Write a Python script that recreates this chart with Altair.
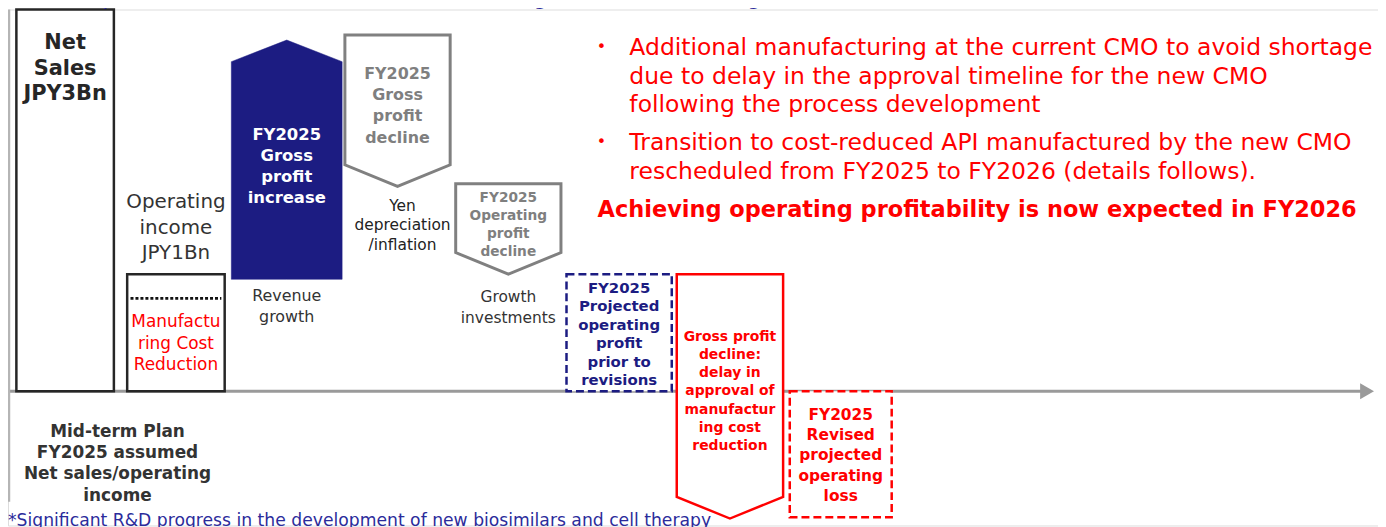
import altair as alt
import pandas as pd

# ---------------- data (JPY Bn-like units) ----------------
categories = ["Net sales", "Operating income", "Revenue growth", "Yen depreciation/inflation",
              "Growth investments", "Projected operating profit",
              "Approval delay gross profit decline", "Revised operating loss"]
start = [0.0, 0.0, 0.88, 2.80, 1.63, 0.0, 0.92, 0.0]
end = [3.0, 0.92, 2.76, 1.61, 0.92, 0.92, -1.00, -0.99]
mfg_cost_split = 0.73   # operating income part attributed to manufacturing cost reduction

bullet_lines = [
    ["Additional manufacturing at the current CMO to avoid shortage",
     "due to delay in the approval timeline for the new CMO",
     "following the process development"],
    ["Transition to cost-reduced API manufactured by the new CMO",
     "rescheduled from FY2025 to FY2026 (details follows)."],
]
conclusion = "Achieving operating profitability is now expected in FY2026"
title_text = "Development investments* towards continuous growth are increasing"
footnote = "*Significant R&D progress in the development of new biosimilars and cell therapy"

# ---------------- styles ----------------
FONT = "DejaVu Sans"
NAVY = "#1c1c82"
RED = "#ff0000"
GRAY = "#808080"
DARK = "#262626"
TIP = 0.17

W, H = 1378, 519
xs = alt.Scale(domain=[-0.5156, 11.849], zero=False, nice=False)
ys = alt.Scale(domain=[-1.0547, 3.0], zero=False, nice=False)


def X(f):
    return alt.X(f, scale=xs, axis=None)


def Y(f):
    return alt.Y(f, scale=ys, axis=None)


def box_df(idx, hw):
    return pd.DataFrame({
        "cat": [categories[i] for i in idx],
        "x0": [i - hw for i in idx], "x1": [i + hw for i in idx],
        "y0": [start[i] for i in idx], "y1": [end[i] for i in idx],
    })


def arrow_df(i, hw):
    s, e = start[i], end[i]
    if e > s:  # upward arrow
        xs_ = [i - hw, i, i + hw]
        top = [e - TIP, e, e - TIP]
        bot = [s, s, s]
    else:
        xs_ = [i - hw, i, i + hw]
        top = [s, s, s]
        bot = [e + TIP, e, e + TIP]
    return pd.DataFrame({"px": xs_, "top": top, "bot": bot})


def rect_layer(idx, hw, **kw):
    return alt.Chart(box_df(idx, hw)).mark_rect(**kw).encode(
        x=X("x0:Q"), x2="x1:Q", y=Y("y0:Q"), y2="y1:Q")


def arrow_layer(i, hw, **kw):
    return alt.Chart(arrow_df(i, hw)).mark_area(
        interpolate="linear", orient="vertical", strokeJoin="miter", **kw
    ).encode(x=X("px:Q"), y=Y("top:Q"), y2="bot:Q")


def label(i, level, text, dy, size, color, bold=False, lh=None, dx=0):
    lh = lh if lh else size * 1.25
    n = text.count("\n") + 1
    df = pd.DataFrame({"i": [i], "v": [level], "t": [text]})
    return alt.Chart(df).mark_text(
        dy=dy - (n - 1) * lh / 2, dx=dx, fontSize=size, font=FONT, color=color,
        fontWeight="bold" if bold else "normal", lineBreak="\n",
        lineHeight=lh, align="center", baseline="middle"
    ).encode(x=X("i:Q"), y=Y("v:Q"), text="t:N")


def free_text(x, y, text, size, color, bold=False, align="left"):
    df = pd.DataFrame({"t": [text]})
    return alt.Chart(df).mark_text(
        fontSize=size, font=FONT, color=color, fontWeight="bold" if bold else "normal",
        align=align, baseline="middle"
    ).encode(x=alt.value(x), y=alt.value(y), text="t:N")


layers = []

# axis line with arrow head + left vertical line
zero_df = pd.DataFrame({"v": [0.0]})
layers.append(alt.Chart(zero_df).mark_rule(color="#9a9a9a", strokeWidth=3).encode(
    y=Y("v:Q"), x=alt.value(0), x2=alt.value(1362)))
layers.append(alt.Chart(zero_df).mark_point(shape="triangle-right", filled=True, size=260,
                                            color="#9a9a9a", opacity=1).encode(
    y=Y("v:Q"), x=alt.value(1367)))
layers.append(alt.Chart(zero_df).mark_rule(color="#b5b5b5", strokeWidth=2.5).encode(
    x=alt.value(1), y=alt.value(0), y2=alt.value(495)))

# solid boxes
layers.append(rect_layer([0, 1], 0.44, fill="white", stroke=DARK, strokeWidth=2.5))
# dotted split line inside operating income box
layers.append(alt.Chart(pd.DataFrame({"x0": [1 - 0.41], "x1": [1 + 0.41], "v": [mfg_cost_split]}))
              .mark_rule(color="#111111", strokeWidth=3, strokeDash=[3, 2])
              .encode(x=X("x0:Q"), x2="x1:Q", y=Y("v:Q")))
# up arrow (navy)
layers.append(arrow_layer(2, 0.5, fill=NAVY, stroke=NAVY, strokeWidth=0.5))
# gray down arrows
layers.append(arrow_layer(3, 0.475, fill="white", stroke=GRAY, strokeWidth=3))
layers.append(arrow_layer(4, 0.475, fill="white", stroke=GRAY, strokeWidth=3))
# dashed projected box (navy)
layers.append(rect_layer([5], 0.475, fill="white", stroke=NAVY, strokeWidth=2.5, strokeDash=[8, 4]))
# red down arrow
layers.append(arrow_layer(6, 0.48, fill="white", stroke=RED, strokeWidth=2.5))
# dashed revised box (red)
layers.append(rect_layer([7], 0.46, fill="white", stroke=RED, strokeWidth=2.5, strokeDash=[8, 4]))

# labels on bars (dy = offset of the block centre)
layers.append(label(0, end[0], "Net\nSales\nJPY3Bn", 59.5, 21, DARK, bold=True, lh=25.5))
layers.append(label(1, end[1], "Operating\nincome\nJPY1Bn", -46.7, 20, "#333333", lh=25.5))
layers.append(label(1, mfg_cost_split, "Manufactu\nring Cost\nReduction", 45.5, 17, RED, lh=22))
layers.append(label(2, (start[2] + end[2]) / 2, "FY2025\nGross\nprofit\nincrease", 7, 16.5, "white", bold=True, lh=21.3))
layers.append(label(2, start[2], "Revenue\ngrowth", 27, 16, "#333333", lh=21))
layers.append(label(3, start[3], "FY2025\nGross\nprofit\ndecline", 71.4, 16, "#7f7f7f", bold=True, lh=21.3))
layers.append(label(3, end[3], "Yen\ndepreciation\n/inflation", 39, 15.5, "#222222", lh=19.5, dx=5))
layers.append(label(4, start[4], "FY2025\nOperating\nprofit\ndecline", 41.6, 13.8, "#7f7f7f", bold=True, lh=18))
layers.append(label(4, end[4], "Growth\ninvestments", 33.3, 15.5, "#333333", lh=21))
layers.append(label(5, end[5], "FY2025\nProjected\noperating\nprofit\nprior to\nrevisions", 60.3, 15, NAVY, bold=True, lh=18.6))
layers.append(label(6, start[6], "Gross profit\ndecline:\ndelay in\napproval of\nmanufactur\ning cost\nreduction", 118, 14, RED, bold=True, lh=18.2))
layers.append(label(7, (start[7] + end[7]) / 2, "FY2025\nRevised\nprojected\noperating\nloss", 1.2, 15.5, RED, bold=True, lh=20.3))
layers.append(label(0.5, 0.0, "Mid-term Plan\nFY2025 assumed\nNet sales/operating\nincome", 73, 17, "#333333", bold=True, lh=21.3, dx=-3))

# right-hand commentary
ys_lines = [[39, 68, 96], [134, 163]]
for blk, lines in enumerate(bullet_lines):
    layers.append(free_text(597, ys_lines[blk][0] - 1, "•", 16, RED, align="center"))
    for j, line in enumerate(lines):
        layers.append(free_text(625, ys_lines[blk][j], line, 23.6, RED))
layers.append(free_text(593, 202, conclusion, 22.6, RED, bold=True))

# title (cut off at the top) and footnote (cut off at the bottom)
layers.append(free_text(22, -11, title_text, 21, "#2b2b9b"))
layers.append(free_text(0, 515, footnote, 17.3, "#2b2b9b"))

chart = alt.layer(*layers).properties(
    width=W, height=H,
    autosize=alt.AutoSizeParams(type="none"),
    padding=0,
).configure_view(stroke=None).configure(background="white")

chart.save("out.html", embed_options={"renderer": "svg", "actions": False})
